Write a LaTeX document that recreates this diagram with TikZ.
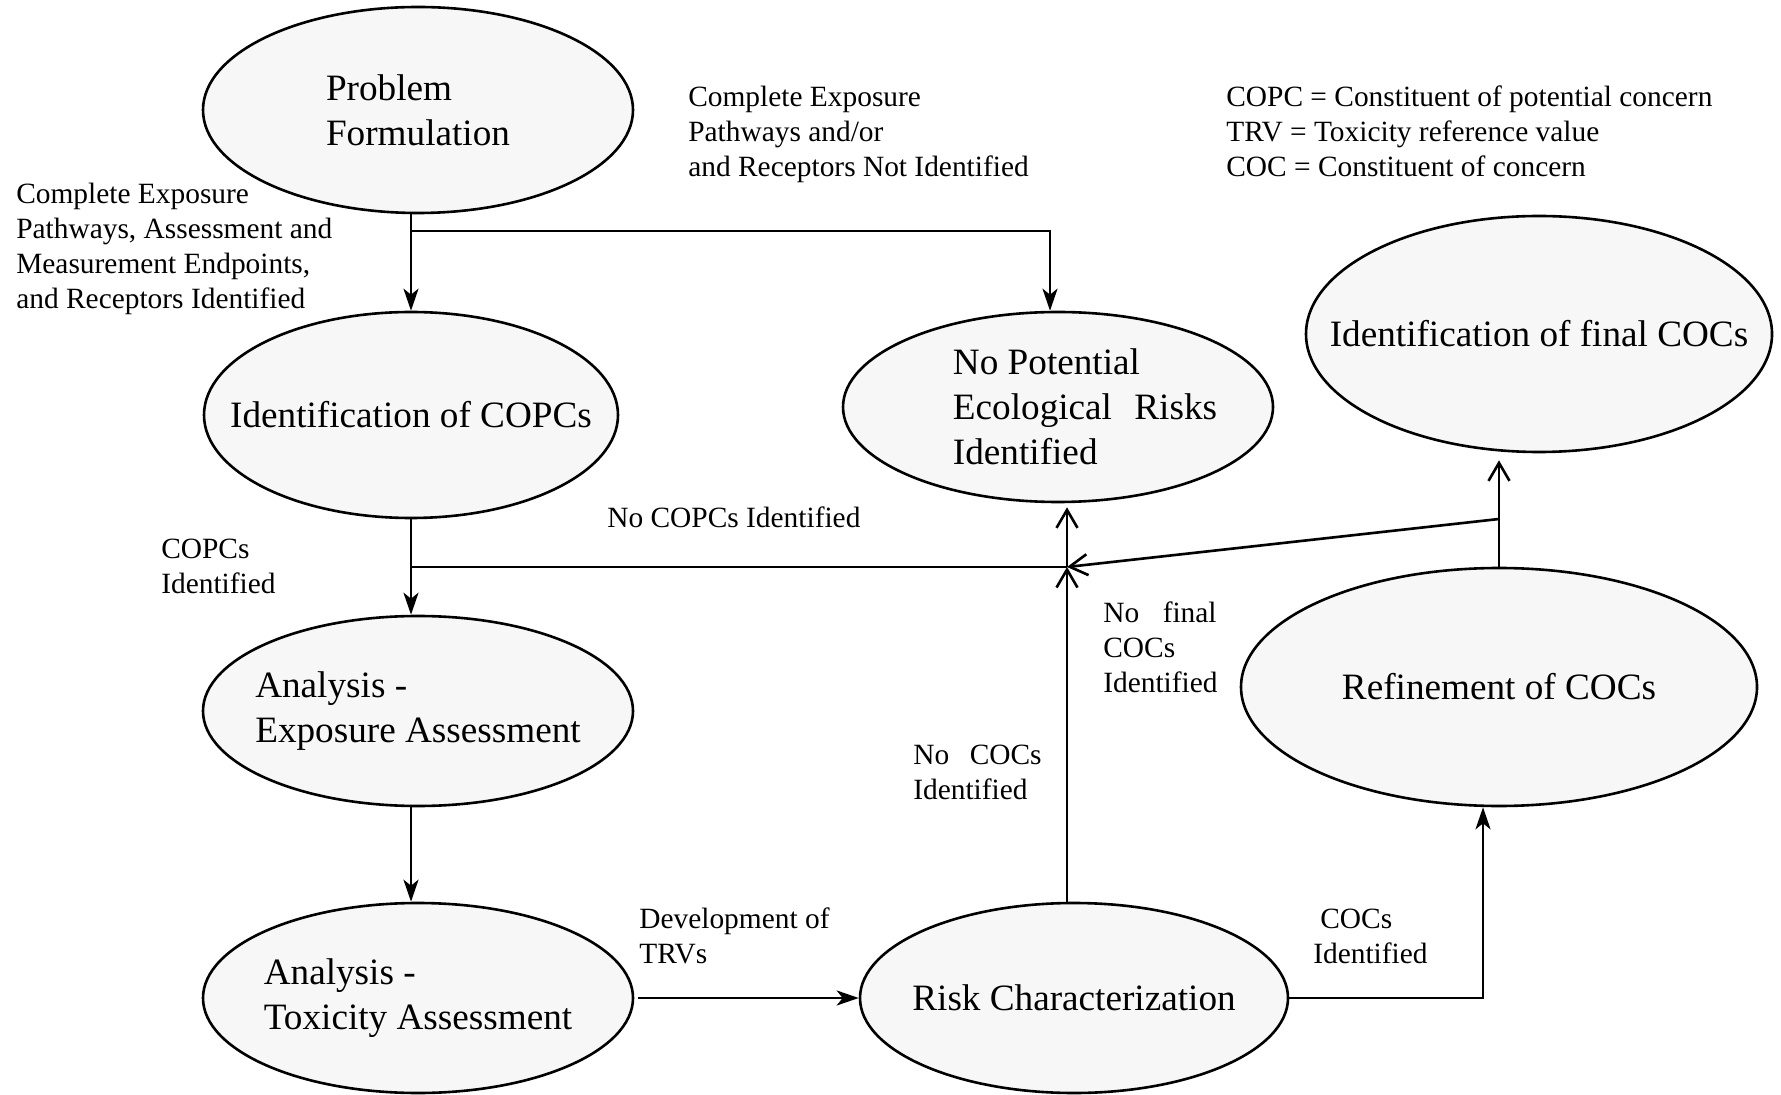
\documentclass[tikz,border=0pt]{standalone}
\usepackage{fontspec}
\setmainfont{Liberation Serif}
\usetikzlibrary{shapes.geometric,arrows.meta}

\tikzset{every picture/.style={line width=1.3pt}}
\tikzset{
  stage/.style={draw, ellipse, fill={rgb, 255:red, 247; green, 247; blue, 247}, inner xsep=-40pt, inner ysep=-15pt, align=left, font=\fontsize{18.6}{22.5}\selectfont},
  note/.style={anchor=west, inner sep=0pt, align=left, font=\fontsize{14.7}{17.5}\selectfont},
  down/.style={-{Stealth[length=11pt,width=7.5pt,inset=3pt]}},
  up/.style={-{Straight Barb[length=9pt,width=10.5pt]}},
}

\def \colX {411}
\def \junX {1067}
\def \splitY {567}

\begin{document}
\begin{tikzpicture}[x=0.5pt,y=0.5pt,yscale=-1,xscale=1]
\useasboundingbox (0,0) rectangle (1781,1095);

	%Shape: Ellipse [Problem Formulation]
	\node [stage, minimum width=215pt, minimum height=103pt] (pf) at (418,110) {Problem\\Formulation};
	%Shape: Ellipse [Identification of COPCs]
	\node [stage, minimum width=207pt, minimum height=103pt] (copc) at (\colX,415) {Identification of COPCs};
	%Shape: Ellipse [Exposure Assessment]
	\node [stage, minimum width=215pt, minimum height=95pt] (expo) at (418,711) {Analysis -\\Exposure Assessment};
	%Shape: Ellipse [Toxicity Assessment]
	\node [stage, minimum width=215pt, minimum height=95pt] (tox) at (418,998) {Analysis -\\Toxicity Assessment};
	%Shape: Ellipse [No Potential Risks]
	\node [stage, minimum width=215pt, minimum height=95pt] (nopot) at (1058,407) {\hspace*{27pt}No Potential\\\hspace*{27pt}Ecological\hspace{0.6em}Risks\\\hspace*{27pt}Identified};
	%Shape: Ellipse [Risk Characterization]
	\node [stage, minimum width=214pt, minimum height=95pt] (risk) at (1074,998) {Risk Characterization};
	%Shape: Ellipse [Refinement]
	\node [stage, minimum width=258pt, minimum height=119pt] (refine) at (1499,687) {Refinement of COCs};
	%Shape: Ellipse [Final COCs]
	\node [stage, minimum width=233pt, minimum height=118pt] (final) at (1539,334) {Identification of final COCs};

	% Text Node
	\node [note] (lblpf) at (15,249) {Complete Exposure\\Pathways, Assessment and\\Measurement Endpoints,\\and Receptors Identified};
	% Text Node
	\node [note] (lblnot) at (687,134) {Complete Exposure\\Pathways and/or\\and Receptors Not Identified};
	% Text Node
	\node [note] (legend) at (1225,131) {COPC = Constituent of potential concern\\TRV = Toxicity reference value\\COC = Constituent of concern};
	% Text Node
	\node [note] (lblnocopc) at (606,517) {No COPCs Identified};
	% Text Node
	\node [note] (lblcopc) at (160,566) {COPCs\\Identified};
	% Text Node
	\node [note] (lblnofinal) at (1102,647) {No\hspace{0.8em}final\\COCs\\Identified};
	% Text Node
	\node [note] (lblnococ) at (912,772) {No\hspace{0.7em}COCs\\Identified};
	% Text Node
	\node [note] (lbltrv) at (638,936) {Development of\\TRVs};
	% Text Node
	\node [note] (lblcoc) at (1312,936) {\hspace*{3.5pt}COCs\\Identified};

	% split points
	\coordinate (pfsplit) at (\colX,231);
	\coordinate (pfturn) at (1050,231);
	\coordinate (copcsplit) at (\colX,\splitY);
	\coordinate (junction) at (\junX,\splitY);
	\coordinate (refsplit) at (1499,519);
	\coordinate (riskturn) at (1483,998);

	% connectors
	\draw [down] (pf.south -| pfsplit) -- (copc.north);
	\draw [down] (pfsplit) -- (pfturn) -- (pfturn |- nopot.north);
	\draw [down] (copc.south) -- (expo.north -| copc.south);
	\draw (copcsplit) -- (junction);
	\draw [down] (expo.south -| copc.south) -- (tox.north -| copc.south);
	\draw [down, shorten <=2pt] (tox.east) -- (risk.west);
	\draw [up] (risk.north -| junction) -- (junction);
	\draw [up, shorten >=2pt] (junction) -- (junction |- nopot.south);
	\draw [up] (refsplit) -- (junction);
	\draw [up, shorten >=3.5pt] (refine.north) -- (refine.north |- final.south);
	\draw [down] (risk.east) -- (riskturn) -- (riskturn |- refine.south);

\end{tikzpicture}
\end{document}
